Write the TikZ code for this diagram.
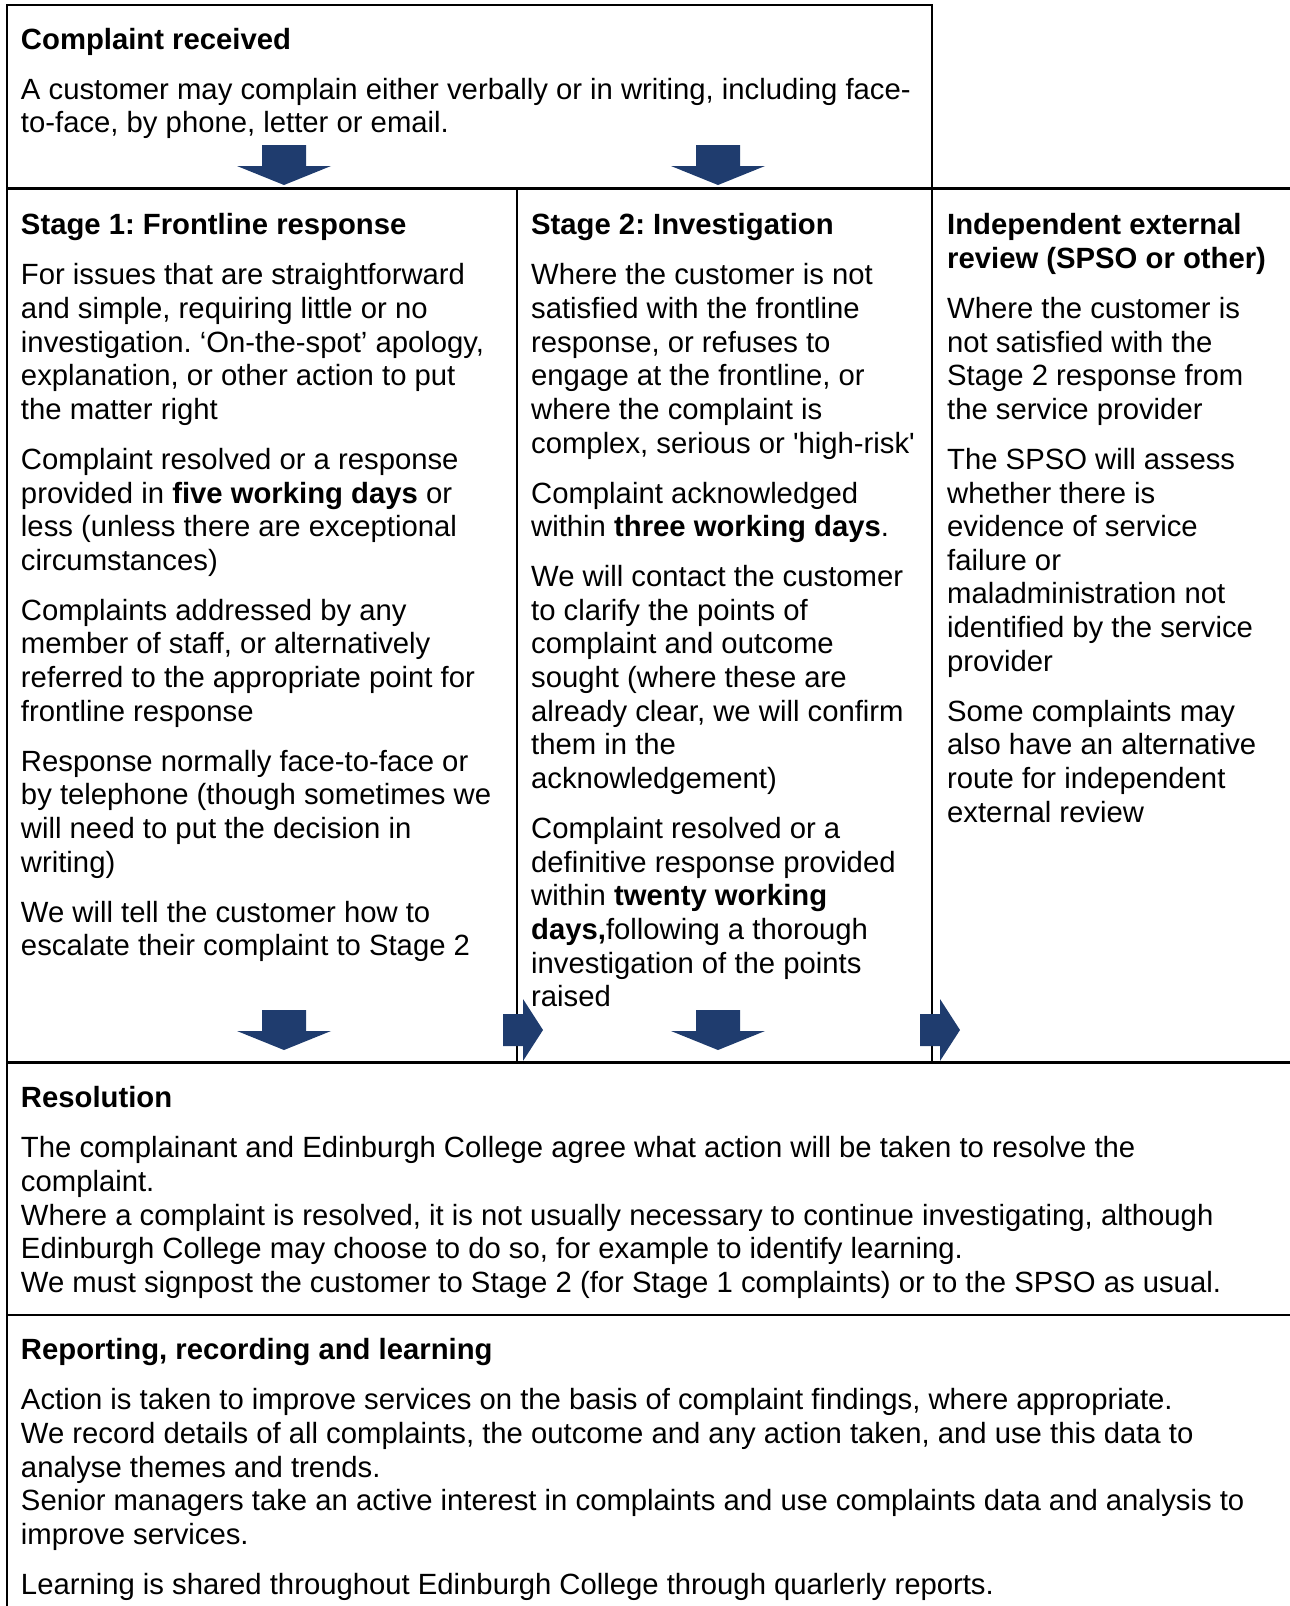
\documentclass[tikz,border=0pt]{standalone}
\usepackage{fontspec}
\setmainfont{Liberation Sans}[Ligatures=TeXOff]
\frenchspacing
\definecolor{arrowblue}{HTML}{1F3C6E}
\tikzset{
  boxline/.style={line width=0.9pt},
  cell/.style={anchor=north west,inner sep=0pt,align=left,font=\fontsize{12}{13.8}\selectfont},
  arrowfill/.style={fill=arrowblue},
}
\newcommand{\pgap}{\\[6.7pt]}
% block arrows: centre x, top y / left x, centre y
\newcommand{\downarr}[2]{\fill[arrowfill] (#1-22,#2) -- (#1+22,#2) -- (#1+22,#2+21) -- (#1+47,#2+21) -- (#1,#2+40) -- (#1-47,#2+21) -- (#1-22,#2+21) -- cycle;}
\newcommand{\rightarr}[2]{\fill[arrowfill] (#1,#2-16) -- (#1+20,#2-16) -- (#1+20,#2-31) -- (#1+40,#2) -- (#1+20,#2+31) -- (#1+20,#2+16) -- (#1,#2+16) -- cycle;}

\begin{document}
\begin{tikzpicture}[x=0.41pt,y=-0.41pt,line cap=butt]
\useasboundingbox (0,0) rectangle (1290,1606);
% frame
\draw[boxline] (7,1606) -- (7,5) -- (932,5) -- (932,188.5);
\draw[boxline] (7,188.5) -- (1290,188.5);
\draw[boxline] (517,188.5) -- (517,1062.5);
\draw[boxline] (932,188.5) -- (932,1062.5);
\draw[boxline] (7,1062.5) -- (1290,1062.5);
\draw[boxline] (7,1314.6) -- (1290,1314.6);
% arrows
\downarr{284}{145}
\downarr{718}{145}
\downarr{284}{1010}
\downarr{718}{1010}
\rightarr{503}{1030}
\rightarr{920}{1030}
% texts
\node[cell] (received) at (20.5,27.5) {\textbf{Complaint received}\pgap
A customer may complain either verbally or in writing, including face-\\
to-face, by phone, letter or email.};
\node[cell] (stageone) at (20.5,213) {\textbf{Stage 1: Frontline response}\pgap
For issues that are straightforward\\
and simple, requiring little or no\\
investigation. ‘On-the-spot’ apology,\\
explanation, or other action to put\\
the matter right\pgap
Complaint resolved or a response\\
provided in \textbf{five working days} or\\
less (unless there are exceptional\\
circumstances)\pgap
Complaints addressed by any\\
member of staff, or alternatively\\
referred to the appropriate point for\\
frontline response\pgap
Response normally face-to-face or\\
by telephone (though sometimes we\\
will need to put the decision in\\
writing)\pgap
We will tell the customer how to\\
escalate their complaint to Stage 2};
\node[cell] (stagetwo) at (530.7,213) {\textbf{Stage 2: Investigation}\pgap
Where the customer is not\\
satisfied with the frontline\\
response, or refuses to\\
engage at the frontline, or\\
where the complaint is\\
complex, serious or 'high-risk'\pgap
Complaint acknowledged\\
within \textbf{three working days}.\pgap
We will contact the customer\\
to clarify the points of\\
complaint and outcome\\
sought (where these are\\
already clear, we will confirm\\
them in the\\
acknowledgement)\pgap
Complaint resolved or a\\
definitive response provided\\
within \textbf{twenty working}\\
\textbf{days,}following a thorough\\
investigation of the points\\
raised};
\node[cell] (review) at (946.7,213) {\textbf{Independent external}\\
\textbf{review (SPSO or other)}\pgap
Where the customer is\\
not satisfied with the\\
Stage 2 response from\\
the service provider\pgap
The SPSO will assess\\
whether there is\\
evidence of service\\
failure or\\
maladministration not\\
identified by the service\\
provider\pgap
Some complaints may\\
also have an alternative\\
route for independent\\
external review};
\node[cell] (resolution) at (20.5,1086) {\textbf{Resolution}\pgap
The complainant and Edinburgh College agree what action will be taken to resolve the\\
complaint.\\
Where a complaint is resolved, it is not usually necessary to continue investigating, although\\
Edinburgh College may choose to do so, for example to identify learning.\\
We must signpost the customer to Stage 2 (for Stage 1 complaints) or to the SPSO as usual.};
\node[cell] (reporting) at (20.5,1338) {\textbf{Reporting, recording and learning}\pgap
Action is taken to improve services on the basis of complaint findings, where appropriate.\\
We record details of all complaints, the outcome and any action taken, and use this data to\\
analyse themes and trends.\\
Senior managers take an active interest in complaints and use complaints data and analysis to\\
improve services.\pgap
Learning is shared throughout Edinburgh College through quarlerly reports.};
\end{tikzpicture}
\end{document}
